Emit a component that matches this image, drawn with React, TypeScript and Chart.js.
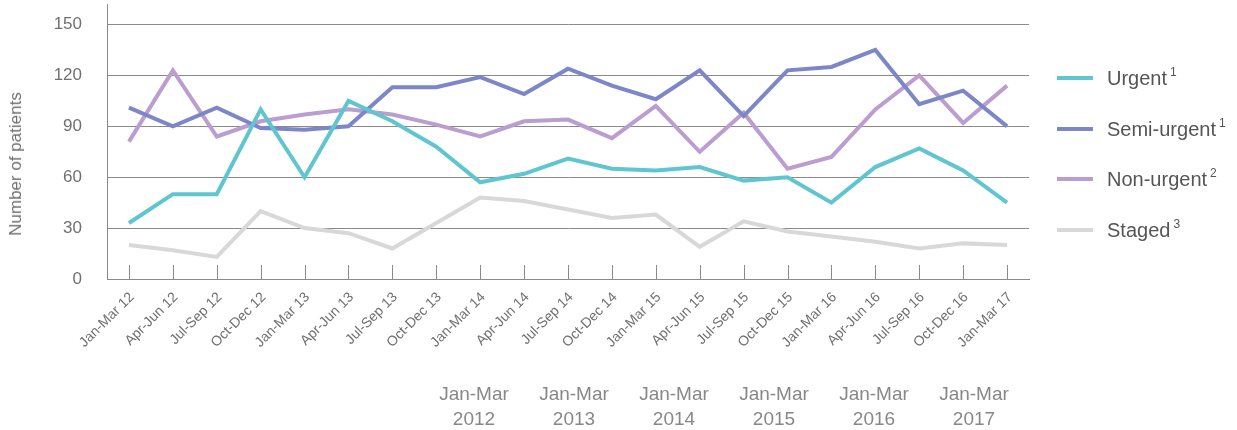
import React, { useEffect, useRef } from "react";
import { Chart, registerables } from "chart.js";

Chart.register(...registerables);

const categories = [
  "Jan-Mar 12", "Apr-Jun 12", "Jul-Sep 12", "Oct-Dec 12",
  "Jan-Mar 13", "Apr-Jun 13", "Jul-Sep 13", "Oct-Dec 13",
  "Jan-Mar 14", "Apr-Jun 14", "Jul-Sep 14", "Oct-Dec 14",
  "Jan-Mar 15", "Apr-Jun 15", "Jul-Sep 15", "Oct-Dec 15",
  "Jan-Mar 16", "Apr-Jun 16", "Jul-Sep 16", "Oct-Dec 16",
  "Jan-Mar 17",
];

const urgent = [33, 50, 50, 100, 60, 105, 93, 78, 57, 62, 71, 65, 64, 66, 58, 60, 45, 66, 77, 64, 45];
const semiUrgent = [101, 90, 101, 89, 88, 90, 113, 113, 119, 109, 124, 114, 106, 123, 96, 123, 125, 135, 103, 111, 90];
const nonUrgent = [81, 123, 84, 93, 97, 100, 97, 91, 84, 93, 94, 83, 102, 75, 98, 65, 72, 100, 120, 92, 114];
const staged = [20, 17, 13, 40, 30, 27, 18, 33, 48, 46, 41, 36, 38, 19, 34, 28, 25, 22, 18, 21, 20];

const yTicks = [0, 30, 60, 90, 120, 150];

const seriesNames = ["Urgent", "Semi-urgent", "Non-urgent", "Staged"];
const seriesNotes = ["1", "1", "2", "3"];
const seriesColors = ["#5fc6cf", "#7d87c7", "#bb9dcf", "#d8d8d8"];

const yearLabels = [
  ["Jan-Mar", "2012"],
  ["Jan-Mar", "2013"],
  ["Jan-Mar", "2014"],
  ["Jan-Mar", "2015"],
  ["Jan-Mar", "2016"],
  ["Jan-Mar", "2017"],
];

const FONT = "'Liberation Sans', Arial, sans-serif";
const AXIS_COLOR = "#8a8a8a";
const CANVAS_SHIFT = 31;

export default function App() {
  const ref = useRef<HTMLCanvasElement>(null);

  useEffect(() => {
    if (!ref.current) return;
    const tickMarks = {
      id: "tickMarks",
      beforeDatasetsDraw(chart: any) {
        const xs = chart.scales.x;
        const ctx = chart.ctx;
        const bottom = chart.chartArea.bottom;
        ctx.save();
        ctx.strokeStyle = AXIS_COLOR;
        ctx.lineWidth = 1;
        categories.forEach((_, i) => {
          const px = Math.round(xs.getPixelForValue(i)) + 0.5;
          ctx.beginPath();
          ctx.moveTo(px, bottom);
          ctx.lineTo(px, bottom - 14);
          ctx.stroke();
        });
        ctx.restore();
      },
    };

    const allSeries = [urgent, semiUrgent, nonUrgent, staged];
    const order = [3, 0, 1, 2];

    const chart = new Chart(ref.current, {
      type: "line",
      data: {
        labels: categories,
        datasets: order.map((k) => ({
          label: seriesNames[k],
          data: allSeries[k],
          borderColor: seriesColors[k],
          backgroundColor: seriesColors[k],
          borderWidth: 4,
          pointRadius: 0,
          tension: 0,
          fill: false,
        })),
      },
      options: {
        animation: false,
        responsive: false,
        maintainAspectRatio: false,
        layout: { padding: { top: 4, right: 208, left: 0, bottom: 0 } },
        plugins: {
          legend: { display: false },
          tooltip: { enabled: false },
        },
        scales: {
          x: {
            offset: true,
            grid: { display: false, drawTicks: false },
            border: { display: true, color: AXIS_COLOR, width: 1 },
            ticks: {
              minRotation: 45,
              maxRotation: 45,
              autoSkip: false,
              padding: 10,
              labelOffset: 3,
              color: "#707070",
              font: { family: FONT, size: 14 },
            },
            afterFit: (s: any) => {
              s.height = 151;
            },
          },
          y: {
            min: 0,
            max: 162,
            afterBuildTicks: (s: any) => {
              s.ticks = yTicks.map((v) => ({ value: v }));
            },
            grid: { color: AXIS_COLOR, lineWidth: 1, drawTicks: false },
            border: { display: true, color: AXIS_COLOR, width: 1 },
            ticks: {
              padding: 25,
              color: "#707070",
              font: { family: FONT, size: 17 },
            },
            afterFit: (s: any) => {
              s.width = 107;
            },
          },
        },
      },
      plugins: [tickMarks],
    });
    return () => chart.destroy();
  }, []);

  return (
    <div
      style={{
        position: "absolute",
        left: 0,
        top: 0,
        width: 1237,
        height: 430,
        overflow: "hidden",
        fontFamily: FONT,
        background: "#fff",
      }}
    >
      <canvas
        ref={ref}
        width={1237}
        height={430 + CANVAS_SHIFT}
        style={{ position: "absolute", left: 0, top: -CANVAS_SHIFT, width: 1237, height: 430 + CANVAS_SHIFT, display: "block" }}
      />
      <div
        style={{
          position: "absolute",
          left: 16,
          top: 164,
          transform: "translate(-50%, -50%) rotate(-90deg)",
          whiteSpace: "nowrap",
          fontSize: 17,
          color: "#707070",
        }}
      >
        Number of patients
      </div>
      {seriesNames.map((name, i) => (
        <div key={name} style={{ position: "absolute", left: 1057, top: 78 + i * 50.6, height: 0 }}>
          <div
            style={{
              position: "absolute",
              left: 0,
              top: -2,
              width: 36,
              height: 4,
              background: seriesColors[i],
            }}
          />
          <div
            style={{
              position: "absolute",
              left: 50,
              top: -12,
              whiteSpace: "nowrap",
              fontSize: 20,
              lineHeight: "24px",
              color: "#555",
            }}
          >
            {name}
            <span style={{ fontSize: 12, position: "relative", top: -9, marginLeft: 3 }}>{seriesNotes[i]}</span>
          </div>
        </div>
      ))}
      {yearLabels.map((lines, i) => (
        <div
          key={i}
          style={{
            position: "absolute",
            left: 474 + i * 100,
            top: 381,
            transform: "translateX(-50%)",
            textAlign: "center",
            fontSize: 19,
            lineHeight: "25px",
            color: "#888",
            whiteSpace: "nowrap",
          }}
        >
          {lines[0]}
          <br />
          {lines[1]}
        </div>
      ))}
    </div>
  );
}
